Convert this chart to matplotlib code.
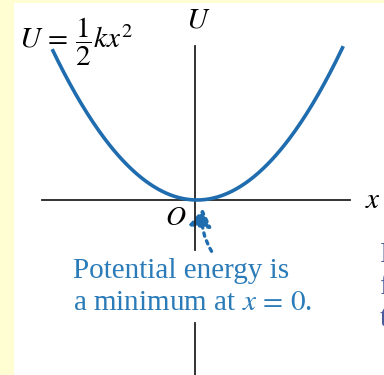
import numpy as np
import matplotlib.pyplot as plt
from matplotlib.patches import FancyArrowPatch, Rectangle

plt.rcParams['mathtext.fontset'] = 'stix'
plt.rcParams['font.family'] = ['Liberation Serif', 'DejaVu Serif']

# Datos de la curva U = 1/2 k x^2
k = 2.0
x = np.linspace(-1.02, 1.03, 200)
U = 0.5 * k * x ** 2

azul = '#1f6cae'
azul_texto = '#2a7bb8'
fondo = '#fffdd2'

fig = plt.figure(figsize=(3.84, 3.75), dpi=100)
fig.patch.set_facecolor('white')
ax = fig.add_axes([0, 0, 1, 1])
ax.set_xlim(-197 / 142, (384 - 197) / 142)
ax.set_ylim(-175 / 145, 200 / 145)
ax.axis('off')

# franjas amarillas (borde del libro)
fig.patches.append(Rectangle((0, 0), 14 / 384, 1, transform=fig.transFigure,
                             facecolor=fondo, edgecolor='none', zorder=0))
fig.patches.append(Rectangle((0, 1 - 3 / 375), 1, 3 / 375, transform=fig.transFigure,
                             facecolor=fondo, edgecolor='none', zorder=0))

# ejes
ax.plot([-1.09, 1.077], [0, 0], color='#222222', lw=1.3)
ax.plot([-0.012, -0.012], [1.063, -0.345], color='#222222', lw=1.3)
ax.plot([-0.012, -0.012], [-0.845, -1.25], color='#222222', lw=1.3)

# parabola
ax.plot(x, U, color=azul, lw=2.6, solid_capstyle='butt')

# etiquetas
ax.text(0.01, 1.24, '$U$', fontsize=21, ha='center', va='center')
ax.text(1.24, -0.005, '$x$', fontsize=21, ha='center', va='center')
ax.text(-0.15, -0.125, '$O$', fontsize=20, ha='center', va='center')
ax.text(-1.255, 1.09, r'$U\,=\,\dfrac{1}{2}kx^2$', fontsize=21, ha='left', va='center')

# flecha punteada
flecha = FancyArrowPatch((0.113, -0.37), (0.045, -0.04),
                         connectionstyle='arc3,rad=-0.2',
                         arrowstyle='-|>,head_length=7,head_width=4.5',
                         linestyle=(0, (1, 1.5)), lw=2.4, color=azul,
                         mutation_scale=1.5)
ax.add_patch(flecha)

ax.text(-0.875, -0.6, 'Potential energy is\na minimum at $x\\,=\\,0$.',
        fontsize=21, color=azul_texto, ha='left', va='center', linespacing=1.3)

# texto cortado del panel siguiente
ax.text(1.285, -0.6, 'I\nf\nt', fontsize=21, color='#4a5a9a',
        ha='left', va='center', linespacing=1.3)

fig.savefig('out.png', dpi=100, facecolor='white')
